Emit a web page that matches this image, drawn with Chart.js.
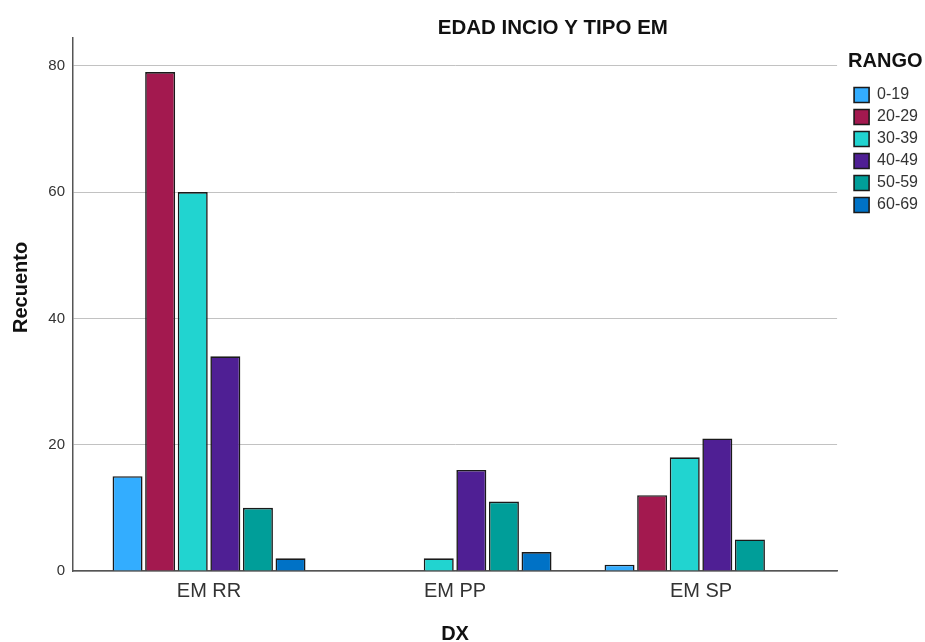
<!DOCTYPE html>
<html>
<head>
<meta charset="utf-8">
<script src="https://cdn.jsdelivr.net/npm/chart.js@4.4.1/dist/chart.umd.min.js"></script>
<style>
html,body{margin:0;padding:0;background:#fff;}
#wrap{width:925px;height:642px;}
</style>
</head>
<body>
<div id="wrap"><canvas id="c" width="925" height="642"></canvas></div>
<script>
// ---- data ----
const categories = ['EM RR', 'EM PP', 'EM SP'];
const ranges = ['0-19', '20-29', '30-39', '40-49', '50-59', '60-69'];
const v0_19  = [15, 0, 1];
const v20_29 = [79, 0, 12];
const v30_39 = [60, 2, 18];
const v40_49 = [34, 16, 21];
const v50_59 = [10, 11, 5];
const v60_69 = [2, 3, 0];
const yTicks = [0, 20, 40, 60, 80];
const chartTitle = 'EDAD INCIO Y TIPO EM';
const xTitle = 'DX';
const yTitle = 'Recuento';
const legendTitle = 'RANGO';

const seriesValues = [v0_19, v20_29, v30_39, v40_49, v50_59, v60_69];
const colors = ['#33adff', '#a3194f', '#21d4d0', '#4f1f94', '#009e99', '#0072c6'];

const FONT = '"Liberation Sans", Arial, sans-serif';
Chart.defaults.font.family = FONT;

const datasets = ranges.map((r, k) => ({
  label: r,
  data: categories.map((c, i) => ({ x: i, y: seriesValues[k][i] })),
  backgroundColor: colors[k],
  borderColor: '#1a1a1a',
  borderWidth: (ctx) => (ctx.raw && ctx.raw.y === 0) ? 0 : 1.6,
  categoryPercentage: 0.795,
  barPercentage: 0.92
}));

const extraText = {
  id: 'extraText',
  afterLayout(chart) {
    const lg = chart.legend;
    const dx = chart.chartArea.right + 11 - lg.left;
    lg.left += dx; lg.right += dx;
  },
  afterDraw(chart) {
    const c = chart.ctx;
    const a = chart.chartArea;
    c.save();
    c.fillStyle = '#111';
    c.textBaseline = 'middle';
    c.textAlign = 'center';
    c.font = 'bold 20.5px ' + FONT;
    c.fillText(chartTitle, a.left + (a.right - a.left) * 0.628, 28);
    c.font = 'bold 20px ' + FONT;
    c.translate(21, a.top + (a.bottom - a.top) * 0.468);
    c.rotate(-Math.PI / 2);
    c.fillText(yTitle, 0, 0);
    c.restore();
  }
};

new Chart(document.getElementById('c'), {
  type: 'bar',
  data: { datasets },
  plugins: [extraText],
  options: {
    responsive: false,
    animation: false,
    devicePixelRatio: 1,
    layout: { padding: { top: 38, right: 8, left: 0, bottom: 0 } },
    plugins: {
      title: { display: false },
      tooltip: { enabled: false },
      legend: {
        position: 'right',
        align: 'start',
        title: {
          display: true,
          text: legendTitle,
          position: 'start',
          color: '#111',
          font: { size: 20, weight: 'bold' },
          padding: { top: 13, bottom: 6 }
        },
        labels: {
          boxWidth: 15,
          boxHeight: 15,
          padding: 6,
          color: '#333',
          font: { size: 16 }
        }
      }
    },
    scales: {
      x: {
        type: 'linear',
        min: -0.553,
        max: 2.553,
        offset: false,
        grid: { display: false, drawTicks: false },
        border: { display: true, color: '#555', width: 1.5 },
        afterBuildTicks: (s) => { s.ticks = categories.map((c, i) => ({ value: i })); },
        afterFit: (s) => { s.height = 71; },
        ticks: {
          color: '#333',
          font: { size: 20 },
          padding: 8,
          autoSkip: false,
          maxRotation: 0,
          callback: (v) => categories[v] !== undefined ? categories[v] : ''
        },
        title: {
          display: true,
          text: xTitle,
          color: '#111',
          font: { size: 20, weight: 'bold' },
          padding: { top: 0, bottom: -4 }
        }
      },
      y: {
        min: 0,
        max: 84.4,
        grid: { color: '#c2c2c2', lineWidth: 1, drawTicks: false },
        border: { display: true, color: '#555', width: 1.5 },
        afterBuildTicks: (s) => { s.ticks = yTicks.map(v => ({ value: v })); },
        afterFit: (s) => { s.width = 73; },
        ticks: {
          color: '#333',
          font: { size: 15 },
          padding: 8
        },
        title: { display: false }
      }
    }
  }
});
</script>
</body>
</html>
